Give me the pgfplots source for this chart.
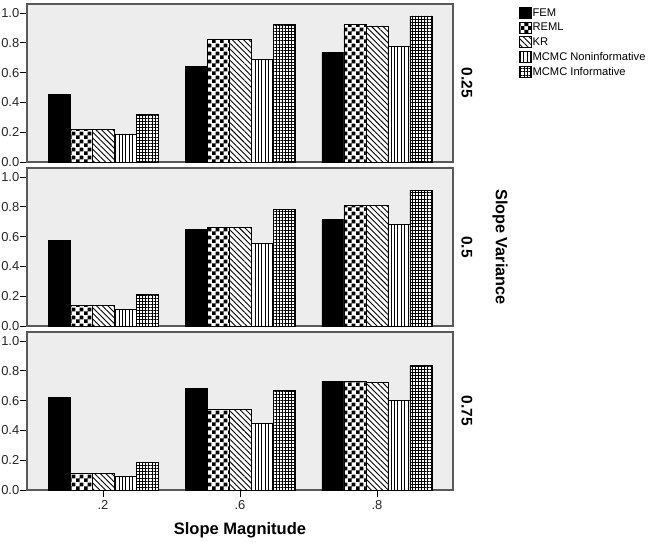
\documentclass[border=0pt]{standalone}
\usepackage{pgfplots}
\pgfplotsset{compat=1.18}
\usepackage{pgfplotstable}
\usetikzlibrary{patterns,patterns.meta}
\usepackage{fontspec}
\setmainfont{Liberation Sans}

\pgfdeclarepattern{
  name=bigchecker,
  type=uncolored,
  bottom left={\pgfpointorigin},
  top right={\pgfpoint{7.6bp}{7.6bp}},
  tile size={\pgfpoint{7.6bp}{7.6bp}},
  code={
    \pgfpathrectangle{\pgfpointorigin}{\pgfpoint{3.9bp}{3.9bp}}
    \pgfpathrectangle{\pgfpoint{3.8bp}{3.8bp}}{\pgfpoint{3.9bp}{3.9bp}}
    \pgfusepath{fill}
  }
}

\pgfplotstableread{
x fem reml kr non inf
0 0.453 0.219 0.219 0.188 0.317
1 0.638 0.822 0.820 0.688 0.920
2 0.735 0.920 0.913 0.775 0.980
}\tabA
\pgfplotstableread{
x fem reml kr non inf
0 0.573 0.135 0.135 0.112 0.209
1 0.649 0.659 0.659 0.551 0.782
2 0.712 0.811 0.811 0.679 0.910
}\tabB
\pgfplotstableread{
x fem reml kr non inf
0 0.623 0.114 0.114 0.092 0.183
1 0.681 0.540 0.540 0.447 0.670
2 0.730 0.730 0.723 0.603 0.839
}\tabC

\pgfplotsset{
  panel/.style={
    scale only axis, width=426bp, height=158bp,
    xmin=-0.555, xmax=2.555, ymin=0, ymax=1.06,
    ybar=0pt, bar width=22bp,
    axis background/.style={fill=gray!14},
    axis line style={draw=black!65, line width=1.2bp},
    ytick={0,0.2,0.4,0.6,0.8,1.0},
    yticklabels={0.0,0.2,0.4,0.6,0.8,1.0},
    ytick pos=left, xtick pos=bottom,
    tick align=outside, major tick length=7bp,
    tick style={black, line width=0.8bp},
    ticklabel style={font=\fontsize{13}{15}\selectfont, text=black!85},
    yticklabel style={inner sep=0.5bp},
    every axis plot/.append style={draw=black, line width=0.8bp},
    clip=false,
  },
  s1/.style={fill=black},
  s2/.style={fill=white, postaction={pattern=bigchecker, pattern color=black}},
  s3/.style={fill=white, postaction={pattern={Lines[angle=-45,distance=4bp,line width=0.9bp]}, pattern color=black}},
  s4/.style={fill=white, postaction={pattern={Lines[angle=90,distance=3.4bp,line width=0.8bp]}, pattern color=black}},
  s5/.style={fill=white, postaction={pattern={Hatch[angle=0,distance=3.1bp,line width=0.7bp]}, pattern color=black}},
}

\begin{document}
\begin{tikzpicture}
\useasboundingbox (0,0) rectangle (652bp,543bp);

\begin{axis}[panel, at={(27bp,381bp)}, anchor=south west, xtick=\empty,
  legend style={at={(1.148,0.995)}, anchor=north west, draw=none, fill=none,
    font=\fontsize{11.2}{13}\selectfont, row sep=2.5bp,
    nodes={inner sep=0.6bp, text height=8bp, text depth=2.5bp},
    /tikz/every even column/.append style={column sep=0bp}},
  legend cell align=left,
  legend image code/.code={\draw[#1, line width=0.8bp] (0bp,-5bp) rectangle (12bp,6bp);},
]
\addplot[s1] table[x=x,y=fem]{\tabA};
\addplot[s2] table[x=x,y=reml]{\tabA};
\addplot[s3] table[x=x,y=kr]{\tabA};
\addplot[s4] table[x=x,y=non]{\tabA};
\addplot[s5] table[x=x,y=inf]{\tabA};
\legend{FEM,REML,KR,MCMC Noninformative,MCMC Informative}
\end{axis}

\begin{axis}[panel, at={(27bp,217bp)}, anchor=south west, xtick=\empty]
\addplot[s1] table[x=x,y=fem]{\tabB};
\addplot[s2] table[x=x,y=reml]{\tabB};
\addplot[s3] table[x=x,y=kr]{\tabB};
\addplot[s4] table[x=x,y=non]{\tabB};
\addplot[s5] table[x=x,y=inf]{\tabB};
\end{axis}

\begin{axis}[panel, at={(27bp,53bp)}, anchor=south west,
  xtick={0,1,2}, xticklabels={.2,.6,.8}]
\addplot[s1] table[x=x,y=fem]{\tabC};
\addplot[s2] table[x=x,y=reml]{\tabC};
\addplot[s3] table[x=x,y=kr]{\tabC};
\addplot[s4] table[x=x,y=non]{\tabC};
\addplot[s5] table[x=x,y=inf]{\tabC};
\end{axis}

\node[rotate=-90, font=\bfseries\fontsize{15.5}{18}\selectfont] at (467bp,460bp) {0.25};
\node[rotate=-90, font=\bfseries\fontsize{15.5}{18}\selectfont] at (467bp,296bp) {0.5};
\node[rotate=-90, font=\bfseries\fontsize{15.5}{18}\selectfont] at (467bp,132bp) {0.75};
\node[rotate=-90, font=\bfseries\fontsize{16.3}{19}\selectfont] at (500bp,296bp) {Slope Variance};
\node[font=\bfseries\fontsize{16.6}{19}\selectfont] at (240bp,13bp) {Slope Magnitude};
\end{tikzpicture}
\end{document}
